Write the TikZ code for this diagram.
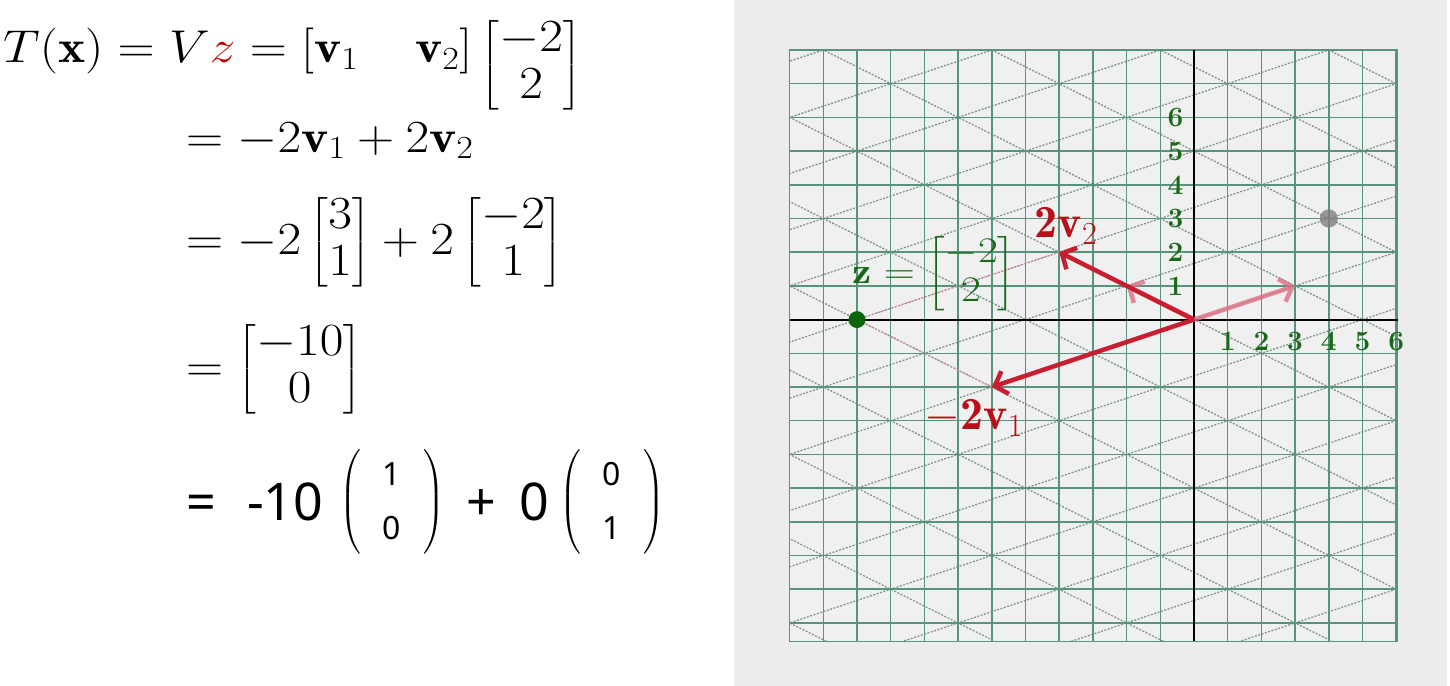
\RequirePackage{fix-cm}
\documentclass[tikz,border=0pt]{standalone}
\usepackage{amsmath}
\usepackage{fontspec}
\newfontfamily\sansf{Noto Sans}
\usetikzlibrary{arrows.meta}
\definecolor{zred}{RGB}{192,0,0}
\definecolor{vred}{RGB}{200,30,50}
\definecolor{labred}{RGB}{185,15,25}
\definecolor{vpale}{RGB}{222,112,132}
\definecolor{hintc}{RGB}{232,140,158}
\definecolor{dgreen}{RGB}{25,105,25}
\definecolor{dotgreen}{RGB}{10,100,10}
\definecolor{gridc}{RGB}{88,148,122}
\definecolor{skewc}{RGB}{125,150,138}
\definecolor{panelbg}{RGB}{236,236,236}
\newcommand{\myeq}[1]{\scalebox{1.12}[1]{$\renewcommand{\arraystretch}{0.85}#1$}}
\tikzset{
  eqn/.style={inner sep=0pt, font=\fontsize{46bp}{55bp}\selectfont},
  eqs/.style={inner sep=0pt, font=\fontsize{52bp}{60bp}\selectfont\sansf},
  eqp/.style={inner sep=0pt, font=\fontsize{32bp}{40bp}\selectfont},
  gridline/.style={draw=gridc, line width=1.5bp},
  skewline/.style={draw=skewc, line width=1.3bp, dash pattern=on 2bp off 1.5bp},
  vecmain/.style={draw=vred, line width=4.5bp, -{Straight Barb[length=11bp,width=24bp]}},
  vecpale/.style={draw=vpale, line width=4.5bp, opacity=.8, -{Straight Barb[length=11bp,width=24bp]}},
  hint/.style={draw=hintc, line width=1bp, dash pattern=on 2bp off 2bp},
  ticklab/.style={text=dgreen, inner sep=0pt, font=\fontsize{28bp}{28bp}\selectfont\bfseries},
  veclab/.style={text=labred, inner sep=0pt, font=\fontsize{46bp}{52bp}\selectfont},
  zlab/.style={text=dgreen, inner sep=0pt, font=\fontsize{36bp}{43bp}\selectfont},
}
\begin{document}
\begin{tikzpicture}[x=1bp,y=-1bp]
\useasboundingbox (0,0) rectangle (1450,686);
% left: equations
\node[eqn, anchor=base west] (l1) at (3,63) {\myeq{T(\mathbf{x}) = V{\color{zred}z} = [\mathbf{v}_1\hspace{1.1em}\mathbf{v}_2]\,\raisebox{-14bp}{$\begin{bmatrix}-2\\ 2\end{bmatrix}$}}};
\node[eqn, anchor=base west] (l2) at (186,152) {\myeq{= -2\mathbf{v}_1 + 2\mathbf{v}_2}};
\node[eqn, anchor=base west] (l3) at (186,254) {\myeq{= -2\begin{bmatrix}3\\ 1\end{bmatrix} + 2\begin{bmatrix}-2\\ 1\end{bmatrix}}};
\node[eqn, anchor=base west] (l4) at (186,381) {\myeq{=\begin{bmatrix}-10\\ 0\end{bmatrix}}};
\node[eqs, anchor=base] (l5eq) at (201,520) {=};
\node[eqs, anchor=base west] (l5a) at (247,520) {-10};
\node[eqp] (l5p1) at (392,502) {$\renewcommand{\arraystretch}{1.35}\left(\begin{array}{@{\hspace{22bp}}c@{\hspace{22bp}}}\text{\sansf 1}\\ \text{\sansf 0}\end{array}\right)$};
\node[eqs, anchor=base] (l5plus) at (481,520) {+};
\node[eqs, anchor=base] (l5b) at (534,520) {0};
\node[eqp] (l5p2) at (612,502) {$\renewcommand{\arraystretch}{1.35}\left(\begin{array}{@{\hspace{22bp}}c@{\hspace{22bp}}}\text{\sansf 0}\\ \text{\sansf 1}\end{array}\right)$};
% right panel
\fill[panelbg] (734,0) rectangle (1447,686);
\begin{scope}[shift={(1194,319.6)}, x=33.7bp, y=33.7bp]
  \fill[white, opacity=.25] (-12,-9.55) rectangle (6.04,8);
  \begin{scope}
    \clip (-12,-9.55) rectangle (6.04,8);
    \foreach \k in {-8,...,8} {
      \draw[skewline] ({-2*\k-30},{\k-10}) -- ({-2*\k+30},{\k+10});
      \draw[skewline] ({3*\k+20},{\k-10}) -- ({3*\k-20},{\k+10});
    }
  \end{scope}
  \foreach \i in {-12,...,6} { \draw[gridline] (\i,-9.55) -- (\i,8); }
  \foreach \j in {-9,...,8} { \draw[gridline] (-12,\j) -- (6.04,\j); }
  \draw[gridline] (-12,-9.55) rectangle (6.04,8);
  \draw[black, line width=2bp] (-12,0) -- (6.04,0);
  \draw[black, line width=2bp] (0,-9.55) -- (0,8);
  \coordinate (O) at (0,0);
  \coordinate (A) at (-6,-2);
  \coordinate (B) at (-4,2);
  \coordinate (P1) at (3,1);
  \coordinate (P2) at (-2,1);
  \coordinate (Z) at (-10,0);
  \coordinate (G) at (4,3);
  \foreach \i in {1,...,6} {
    \node[ticklab] (xt\i) at (\i,-0.65) {\i};
    \node[ticklab] (yt\i) at (-0.55,\i) {\i};
  }
  \draw[hint] (Z) -- (B);
  \draw[hint] (Z) -- (A);
  \draw[vecpale] (O) -- (P1);
  \draw[vecpale] (O) -- (P2);
  \draw[vecmain] (O) -- (A);
  \draw[vecmain] (O) -- (B);
  \fill[dotgreen] (Z) circle (0.25);
  \fill[gray, opacity=.8] (G) circle (0.27);
\end{scope}
\node[veclab] (lb2) at (1066,226) {$\mathbf{2v}_2$};
\node[veclab] (lb1) at (974,418) {$-\mathbf{2v}_1$};
\node[zlab] (lbz) at (934,274) {\scalebox{1.2}[1]{$\mathbf{z} = \renewcommand{\arraystretch}{0.9}\begin{bmatrix}-2\\ 2\end{bmatrix}$}};
\end{tikzpicture}
\end{document}
